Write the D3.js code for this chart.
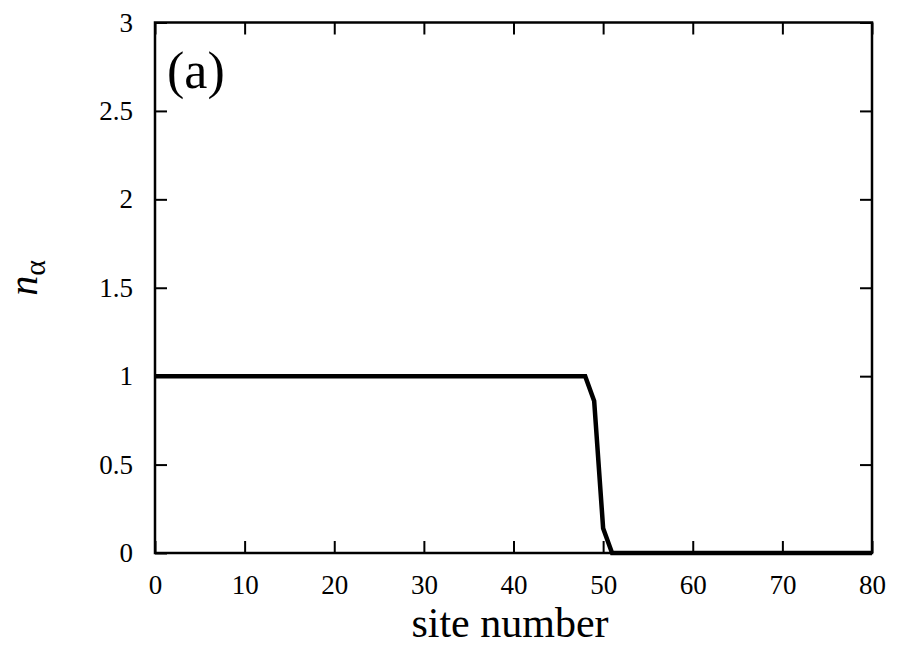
<!DOCTYPE html>
<html><head><meta charset="utf-8">
<script src="https://cdn.jsdelivr.net/npm/d3@7"></script>
<style>body{margin:0;background:#fff}svg{display:block}text{font-family:"Liberation Serif","Times New Roman",serif;fill:#000}</style>
</head><body>
<svg id="c" width="900" height="655"></svg>
<script>
const siteNumbers = [0,1,2,3,4,5,6,7,8,9,10,11,12,13,14,15,16,17,18,19,20,21,22,23,24,25,26,27,28,29,30,31,32,33,34,35,36,37,38,39,40,41,42,43,44,45,46,47,48,49,50,51,52,53,54,55,56,57,58,59,60,61,62,63,64,65,66,67,68,69,70,71,72,73,74,75,76,77,78,79,80];
const density = [1,1,1,1,1,1,1,1,1,1,1,1,1,1,1,1,1,1,1,1,1,1,1,1,1,1,1,1,1,1,1,1,1,1,1,1,1,1,1,1,1,1,1,1,1,1,1,1,1,0.86,0.14,0,0,0,0,0,0,0,0,0,0,0,0,0,0,0,0,0,0,0,0,0,0,0,0,0,0,0,0,0,0];
const xTicks = [0,10,20,30,40,50,60,70,80];
const yTicks = [0,0.5,1,1.5,2,2.5,3];

const svg = d3.select("#c");
const L=155, R=872, T=22.5, B=553;
const x = d3.scaleLinear().domain([0,80]).range([L,R]);
const y = d3.scaleLinear().domain([0,3]).range([B,T]);
const tk = 12;

const fmt = d => String(d);
svg.append("g").attr("transform",`translate(0,${B})`)
  .call(d3.axisBottom(x).tickValues(xTicks).tickSize(-tk).tickPadding(22).tickFormat(fmt))
  .call(g=>{g.select(".domain").remove();g.selectAll("line").attr("stroke","#000").attr("stroke-width",2);
    g.selectAll("text").attr("font-size",27).attr("font-family","Liberation Serif");});
svg.append("g").attr("transform",`translate(0,${T})`)
  .call(d3.axisTop(x).tickValues(xTicks).tickSize(-tk).tickFormat(""))
  .call(g=>{g.select(".domain").remove();g.selectAll("line").attr("stroke","#000").attr("stroke-width",2);});
svg.append("g").attr("transform",`translate(${L},0)`)
  .call(d3.axisLeft(y).tickValues(yTicks).tickSize(-tk).tickPadding(22).tickFormat(fmt))
  .call(g=>{g.select(".domain").remove();g.selectAll("line").attr("stroke","#000").attr("stroke-width",2);
    g.selectAll("text").attr("font-size",27).attr("font-family","Liberation Serif");});
svg.append("g").attr("transform",`translate(${R},0)`)
  .call(d3.axisRight(y).tickValues(yTicks).tickSize(-tk).tickFormat(""))
  .call(g=>{g.select(".domain").remove();g.selectAll("line").attr("stroke","#000").attr("stroke-width",2);});

const line = d3.line().x((d,i)=>x(siteNumbers[i])).y(d=>y(d));
svg.append("path").datum(density).attr("d",line).attr("fill","none")
  .attr("stroke","#000").attr("stroke-width",4.5).attr("stroke-linejoin","miter");

svg.append("rect").attr("x",L).attr("y",T).attr("width",R-L).attr("height",B-T)
  .attr("fill","none").attr("stroke","#000").attr("stroke-width",2.5);

svg.append("text").attr("x",167).attr("y",88).attr("font-size",52).text("(a)");
svg.append("text").attr("x",510).attr("y",637).attr("text-anchor","middle").attr("font-size",42).text("site number");

const yl = svg.append("text").attr("transform","translate(37,278) rotate(-90)").attr("text-anchor","middle");
yl.append("tspan").attr("font-size",40).attr("font-style","italic").text("n");
yl.append("tspan").attr("font-size",30).attr("dy",8).text("α");
</script>
</body></html>
